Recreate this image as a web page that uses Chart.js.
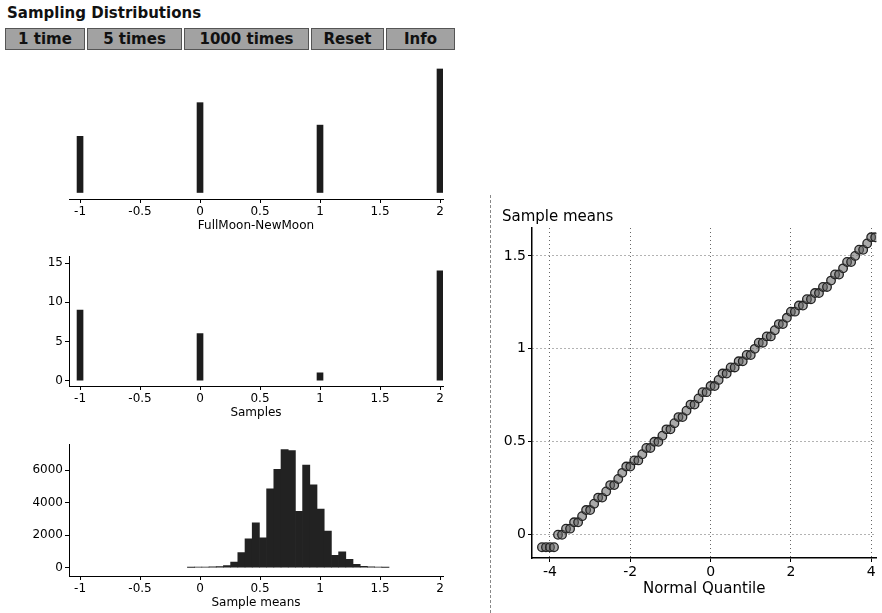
<!DOCTYPE html>
<html>
<head>
<meta charset="utf-8">
<title>Sampling Distributions</title>
<script src="https://cdn.jsdelivr.net/npm/chart.js@4.4.1/dist/chart.umd.min.js"></script>
<style>
body { margin: 0; background: #fff; width: 882px; height: 613px; overflow: hidden; position: relative; font-family: 'DejaVu Sans', sans-serif; }
canvas { position: absolute; }
#title { position: absolute; left: 7px; top: 3px; font-size: 15px; font-weight: bold; line-height: 20px; color: #111; }
#buttons { position: absolute; left: 5px; top: 28px; height: 22px; display: flex; }
#buttons span { display: block; height: 20px; line-height: 20px; text-align: center; font-size: 15px; font-weight: bold; color: #111;
  background: #a2a2a2; border: 1px solid #555; margin-right: 2px; }
#divider { position: absolute; left: 490px; top: 195px; height: 418px; border-left: 1px dashed #888; }
</style>
</head>
<body>
<div id="title">Sampling Distributions</div>
<div id="buttons">
  <span style="width:78px">1 time</span>
  <span style="width:93px">5 times</span>
  <span style="width:123px">1000 times</span>
  <span style="width:71px">Reset</span>
  <span style="width:67px">Info</span>
</div>
<div id="divider"></div>
<canvas id="populationChart" width="450" height="180" style="left:0;top:55px"></canvas>
<canvas id="samplesChart" width="450" height="175" style="left:0;top:247px"></canvas>
<canvas id="meansChart" width="450" height="177" style="left:0;top:435px"></canvas>
<canvas id="quantileChart" width="392" height="400" style="left:490px;top:200px"></canvas>
<script>
// values
const moonDiffs = [-1, 0, 1, 2];
const populationCounts = [5, 8, 6, 11];
const sampleCounts = [9, 6, 1, 14];

const meanBins = [-0.075, -0.015, 0.045, 0.105, 0.165, 0.225, 0.285, 0.345, 0.405, 0.465,
  0.525, 0.585, 0.645, 0.705, 0.765, 0.825, 0.885, 0.945, 1.005, 1.065,
  1.125, 1.185, 1.245, 1.305, 1.365, 1.425, 1.485, 1.545];
const meanCounts = [15, 20, 25, 40, 60, 120, 330, 930, 1770, 2760,
  1830, 4850, 6050, 7270, 7200, 3460, 6320, 5100, 3600, 2250,
  750, 970, 500, 200, 80, 40, 25, 15];

const normalQuantiles = [-4.2, -4.1, -4.0, -3.9, -3.8, -3.7, -3.6, -3.5, -3.4, -3.3,
  -3.2, -3.1, -3.0, -2.9, -2.8, -2.7, -2.6, -2.5, -2.4, -2.3,
  -2.2, -2.1, -2.0, -1.9, -1.8, -1.7, -1.6, -1.5, -1.4, -1.3,
  -1.2, -1.1, -1.0, -0.9, -0.8, -0.7, -0.6, -0.5, -0.4, -0.3,
  -0.2, -0.1, 0, 0.1, 0.2, 0.3, 0.4, 0.5, 0.6, 0.7,
  0.8, 0.9, 1.0, 1.1, 1.2, 1.3, 1.4, 1.5, 1.6, 1.7,
  1.8, 1.9, 2.0, 2.1, 2.2, 2.3, 2.4, 2.5, 2.6, 2.7,
  2.8, 2.9, 3.0, 3.1, 3.2, 3.3, 3.4, 3.5, 3.6, 3.7,
  3.8, 3.9, 4.0, 4.1];
const sampleMeans = [-0.067, -0.067, -0.067, -0.067, 0, 0, 0.033, 0.033, 0.067, 0.067,
  0.1, 0.133, 0.133, 0.167, 0.2, 0.2, 0.233, 0.267, 0.267, 0.3,
  0.333, 0.367, 0.367, 0.4, 0.4, 0.433, 0.467, 0.467, 0.5, 0.5,
  0.533, 0.567, 0.567, 0.6, 0.633, 0.633, 0.667, 0.7, 0.7, 0.733,
  0.767, 0.767, 0.8, 0.8, 0.833, 0.867, 0.867, 0.9, 0.9, 0.933,
  0.933, 0.967, 0.967, 1.0, 1.033, 1.033, 1.067, 1.067, 1.1, 1.133,
  1.133, 1.167, 1.2, 1.2, 1.233, 1.233, 1.267, 1.267, 1.3, 1.3,
  1.333, 1.333, 1.367, 1.4, 1.4, 1.433, 1.467, 1.467, 1.5, 1.533,
  1.533, 1.567, 1.6, 1.6];

const unitTicks = [-1, -0.5, 0, 0.5, 1, 1.5, 2];
const sampleCountTicks = [0, 5, 10, 15];
const meanCountTicks = [0, 2000, 4000, 6000];
const quantileTicks = [-4, -2, 0, 2, 4];
const meanTicks = [0, 0.5, 1, 1.5];

Chart.defaults.font.family = "'DejaVu Sans', sans-serif";
Chart.defaults.color = '#000';
Chart.defaults.animation = false;

function fixedTicks(values) {
    return scale => { scale.ticks = values.map(v => ({ value: v })); };
}

function bottomAxis(titleText, size) {
    return {
        type: 'linear',
        min: -1.092,
        max: 2.025,
        offset: false,
        afterBuildTicks: fixedTicks(unitTicks),
        afterFit: s => { s.height = size; },
        border: { color: '#000', width: 1 },
        grid: { drawOnChartArea: false, offset: false, tickLength: 4, color: '#000' },
        ticks: { font: { size: 12 }, padding: 2, maxRotation: 0, autoSkip: false, callback: v => String(v) },
        title: { display: !!titleText, text: titleText, font: { size: 12 }, padding: { top: 0, bottom: 2 } }
    };
}

function leftAxis(min, max, tickValues) {
    return {
        min: min,
        max: max,
        afterBuildTicks: fixedTicks(tickValues),
        afterFit: s => { s.width = 69; },
        border: { color: '#000', width: 1 },
        grid: { drawOnChartArea: false, tickLength: 4, color: '#000' },
        ticks: { font: { size: 12 }, padding: 2, callback: v => String(v) }
    };
}

function barPoints(xs, ys) {
    return xs.map((x, i) => ({ x: x, y: ys[i] }));
}

new Chart(document.getElementById('populationChart'), {
    type: 'bar',
    data: { datasets: [{ data: barPoints(moonDiffs, populationCounts), backgroundColor: '#1c1c1c', barThickness: 6 }] },
    options: {
        responsive: false,
        layout: { padding: { left: 69, right: 7, top: 5, bottom: 0 } },
        plugins: { legend: { display: false }, tooltip: { enabled: false } },
        scales: {
            x: bottomAxis('FullMoon-NewMoon', 36),
            y: { display: false, min: -0.58, max: 11.8 }
        }
    }
});

new Chart(document.getElementById('samplesChart'), {
    type: 'bar',
    data: { datasets: [{ data: barPoints(moonDiffs, sampleCounts), backgroundColor: '#1c1c1c', barThickness: 6 }] },
    options: {
        responsive: false,
        layout: { padding: { left: 0, right: 7, top: 5, bottom: 0 } },
        plugins: { legend: { display: false }, tooltip: { enabled: false } },
        scales: {
            x: bottomAxis('Samples', 36),
            y: leftAxis(-0.67, 15.87, sampleCountTicks)
        }
    }
});

new Chart(document.getElementById('meansChart'), {
    type: 'bar',
    data: { datasets: [{ data: barPoints(meanBins, meanCounts), backgroundColor: '#222', barPercentage: 1, categoryPercentage: 1 }] },
    options: {
        responsive: false,
        layout: { padding: { left: 0, right: 7, top: 5, bottom: 0 } },
        plugins: { legend: { display: false }, tooltip: { enabled: false } },
        scales: {
            x: bottomAxis('Sample means', 36),
            y: leftAxis(-520, 7600, meanCountTicks)
        }
    }
});

new Chart(document.getElementById('quantileChart'), {
    type: 'scatter',
    data: {
        datasets: [{
            data: barPoints(normalQuantiles, sampleMeans),
            pointRadius: 4.3,
            pointBorderWidth: 1.3,
            borderColor: '#222',
            backgroundColor: 'rgba(100,100,100,0.55)'
        }]
    },
    options: {
        responsive: false,
        layout: { padding: { left: 12, right: 0, top: 0, bottom: 0 } },
        plugins: {
            legend: { display: false },
            tooltip: { enabled: false },
            title: { display: true, text: 'Sample means', align: 'start', font: { size: 15, weight: 'normal' }, padding: { top: 8, bottom: 2 } }
        },
        scales: {
            x: {
                type: 'linear',
                min: -4.448,
                max: 4.13,
                afterBuildTicks: fixedTicks(quantileTicks),
                afterFit: s => { s.height = 42; },
                border: { color: '#000', width: 1.5, dash: [1, 3] },
                grid: { color: '#666', tickLength: 4, tickColor: '#000' },
                ticks: { font: { size: 14 }, padding: 2, callback: v => String(v) },
                title: { display: true, text: 'Normal Quantile', font: { size: 15 }, padding: { top: 0, bottom: 2 } }
            },
            y: {
                min: -0.125,
                max: 1.65,
                afterBuildTicks: fixedTicks(meanTicks),
                afterFit: s => { s.width = 30; },
                border: { color: '#000', width: 1.5, dash: [1, 3] },
                grid: { color: '#666', tickLength: 4, tickColor: '#000' },
                ticks: { font: { size: 14 }, padding: 2, callback: v => String(v) }
            }
        }
    }
});
</script>
</body>
</html>
